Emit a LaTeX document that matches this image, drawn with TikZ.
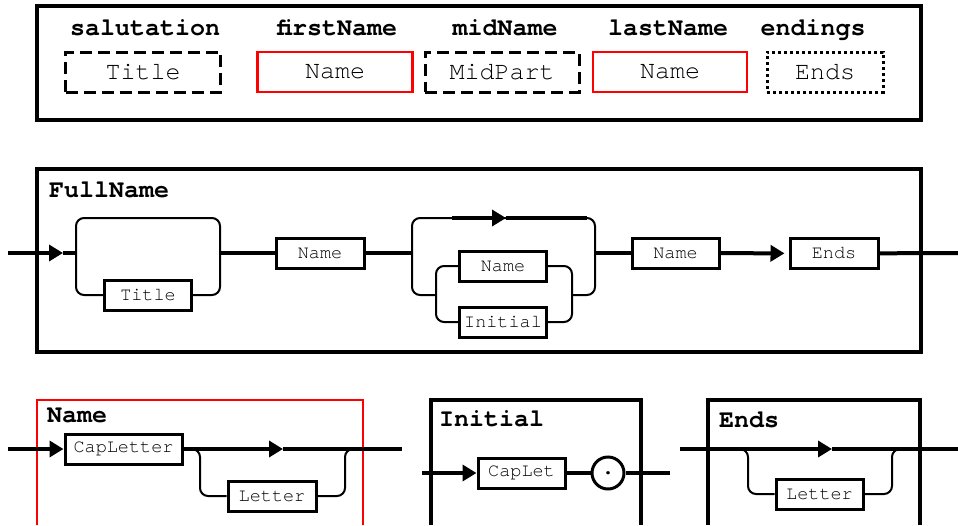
\documentclass[tikz,border=0pt]{standalone}
\usepackage{fontspec}
\setmonofont{texgyrecursor}[Extension=.otf, UprightFont=*-regular, BoldFont=*-bold]
\usetikzlibrary{arrows.meta}

\begin{document}
\begin{tikzpicture}[x=1pt,y=-1pt,
		hdr/.style={font=\fontsize{25}{30}\selectfont\ttfamily\bfseries, inner sep=0pt},
		field/.style={draw, line width=3pt, font=\fontsize{25}{30}\selectfont\ttfamily, minimum height=40pt, inner sep=0pt},
		optfield/.style={field, dash pattern=on 12pt off 6pt},
		reqfield/.style={field, draw=red, line width=2.5pt},
		manyfield/.style={field, dash pattern=on 3pt off 3pt},
		term/.style={draw, line width=3pt, fill=white, font=\fontsize{18.5}{22}\selectfont\ttfamily, minimum height=30pt, inner sep=0pt},
		frame/.style={line width=3.5pt},
		main/.style={line width=4pt},
		loopline/.style={line width=2pt, rounded corners=8pt},
		tip/.style={-{Triangle[length=14pt,width=16pt]}}]
		\useasboundingbox (0,0) rectangle (958,525);

		% fields
		\draw[frame] (37,6) rectangle (921,120);
		\node[hdr, anchor=base] (hsal) at (145,35) {salutation};
		\node[hdr, anchor=base] (hfirst) at (337,35) {firstName};
		\node[hdr, anchor=base] (hmid) at (505,35) {midName};
		\node[hdr, anchor=base] (hlast) at (668,35) {lastName};
		\node[hdr, anchor=base] (hend) at (813,35) {endings};
		\node[optfield, minimum width=155pt] (fsal) at (143,72) {Title};
		\node[reqfield, minimum width=155pt] (ffirst) at (335,72) {Name};
		\node[optfield, minimum width=154pt] (fmid) at (502,72) {MidPart};
		\node[reqfield, minimum width=154pt] (flast) at (670,72) {Name};
		\node[manyfield, minimum width=116pt] (fend) at (825,72) {Ends};

		% FullName
		\draw[frame] (37,169) rectangle (921,352);
		\node[hdr, anchor=base west] (hfull) at (49,197) {FullName};
		\coordinate (fin) at (8,253);
		\coordinate (fa) at (63,253);
		\coordinate (fout) at (958,253);
		\coordinate (l1w) at (76,253);
		\coordinate (l1e) at (220,253);
		\coordinate (l2w) at (412,253);
		\coordinate (l2e) at (595,253);
		\coordinate (j2w) at (436,295);
		\coordinate (j2e) at (572,295);
		\node[term, minimum width=87pt] (ttitle) at (148,295) {Title};
		\node[term, minimum width=88pt] (tname) at (320,253) {Name};
		\node[term, minimum width=87pt] (tname2) at (503,266) {Name};
		\node[term, minimum width=87pt] (tinit) at (503,322) {Initial};
		\node[term, minimum width=87pt] (tname3) at (675.5,253) {Name};
		\node[term, minimum width=88pt] (tends) at (834,253.5) {Ends};
		\draw[main, tip] (fin) -- (fa);
		\draw[main] (fa) -- (l1w);
		\draw[main] (l1e) -- (tname);
		\draw[main] (tname) -- (l2w);
		\draw[main] (l2e) -- (tname3);
		\draw[main, tip, shorten >=4pt] (tname3) -- (tends);
		\draw[main] (tends) -- (fout);

		\draw[loopline] (l1w) -- (76,218) -- (220,218) -- (l1e);
		\draw[loopline] (l1w) |- (ttitle.west);
		\draw[loopline] (ttitle.east) -| (l1e);

		\draw[loopline] (l2w) -- (412,218) -- (595,218) -- (l2e);
		\draw[main, tip] (452,218) -- (506,218);
		\draw[main] (506,218) -- (587,218);
		\draw[loopline] (l2w) |- (j2w);
		\draw[loopline] (tname2.west) -| (j2w) |- (tinit.west);
		\draw[loopline] (tname2.east) -| (j2e) |- (tinit.east);
		\draw[loopline] (j2e) -| (l2e);

		% Name
		\draw[frame, red, line width=2.5pt] (37,525) |- (363,400) -- (363,525);
		\node[hdr, anchor=base west] (hname) at (47,422) {Name};
		\coordinate (nin) at (8,449);
		\coordinate (na) at (283,449);
		\coordinate (nout) at (402,449);
		\coordinate (nlw) at (190,449);
		\coordinate (nle) at (355,449);
		\node[term, minimum width=117pt] (tcap) at (123.5,449) {CapLetter};
		\node[term, minimum width=88pt] (tletter) at (272,496) {Letter};
		\draw[main, tip] (nin) -- (tcap);
		\draw[main, tip] (tcap) -- (na);
		\draw[main] (na) -- (nout);
		\draw[loopline] (nlw) -- (200,449) |- (tletter.west);
		\draw[loopline] (tletter.east) -| (345,449) -- (nle);

		% Initial
		\draw[frame] (431,525) |- (641,400) -- (641,525);
		\node[hdr, anchor=base west] (hinit) at (439,426) {Initial};
		\coordinate (iin) at (422,473);
		\coordinate (iout) at (670,473);
		\node[term, minimum width=87pt] (tcaplet) at (521.5,473) {CapLet};
		\node[draw, circle, line width=3pt, minimum size=32pt, inner sep=0pt, font=\fontsize{25}{30}\selectfont\ttfamily\bfseries] (dot) at (608,473) {.};
		\draw[main, tip] (iin) -- (tcaplet);
		\draw[main] (tcaplet) -- (dot);
		\draw[main] (dot) -- (iout);

		% Ends
		\draw[frame] (708,525) |- (920,400) -- (920,525);
		\node[hdr, anchor=base west] (hends) at (719,427) {Ends};
		\coordinate (ein) at (680,449);
		\coordinate (ea) at (832,449);
		\coordinate (eout) at (958,449);
		\coordinate (elw) at (738,449);
		\coordinate (ele) at (902,449);
		\node[term, minimum width=87pt] (tletter2) at (819.5,494) {Letter};
		\draw[main, tip] (ein) -- (ea);
		\draw[main] (ea) -- (eout);
		\draw[loopline] (elw) -- (748,449) |- (tletter2.west);
		\draw[loopline] (tletter2.east) -| (892,449) -- (ele);

	\end{tikzpicture}
\end{document}
